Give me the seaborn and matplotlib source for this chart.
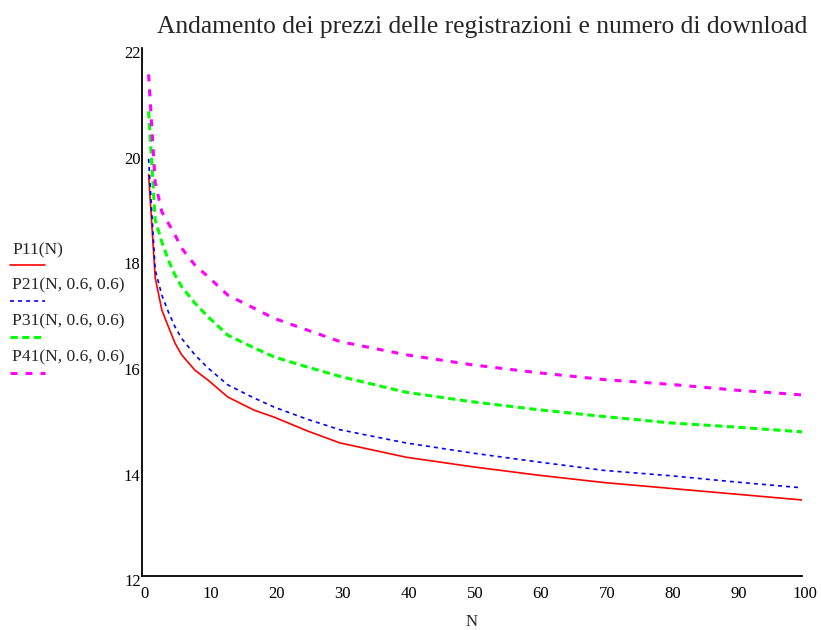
import pandas as pd
import matplotlib
matplotlib.use("Agg")
import matplotlib.pyplot as plt
import matplotlib.transforms as mtransforms
from matplotlib.lines import Line2D
import seaborn as sns

# values
n_values = [1, 2, 3, 4, 5, 6, 8, 10, 13, 17, 20, 25, 30, 40, 50, 60, 70, 80, 90, 100]
p11 = [19.6, 17.65, 17.04, 16.72, 16.41, 16.19, 15.9, 15.71, 15.39, 15.14, 15.01, 14.75, 14.52,
       14.25, 14.07, 13.91, 13.77, 13.66, 13.55, 13.44]
p21 = [19.9, 17.8, 17.32, 17.0, 16.72, 16.5, 16.19, 15.94, 15.62, 15.37, 15.2, 14.97, 14.77,
       14.52, 14.33, 14.16, 14.0, 13.9, 13.78, 13.67]
p31 = [20.8, 18.74, 18.33, 17.98, 17.7, 17.48, 17.17, 16.91, 16.56, 16.32, 16.15, 15.96, 15.78,
       15.48, 15.3, 15.15, 15.02, 14.9, 14.82, 14.73]
p41 = [21.5, 19.45, 18.9, 18.68, 18.46, 18.21, 17.89, 17.67, 17.32, 17.07, 16.88, 16.66, 16.44,
       16.19, 16.0, 15.85, 15.72, 15.63, 15.52, 15.43]

series_labels = ["P11(N)", "P21(N, 0.6, 0.6)", "P31(N, 0.6, 0.6)", "P41(N, 0.6, 0.6)"]
series_colors = ["#ff0000", "#0000ff", "#00ff00", "#ff00ff"]
x_ticks = [0, 10, 20, 30, 40, 50, 60, 70, 80, 90, 100]
y_ticks = [12, 14, 16, 18, 20, 22]

title = "Andamento dei prezzi delle registrazioni e numero di download"

sns.set_style("white")
plt.rcParams["font.family"] = ["Liberation Serif", "DejaVu Serif"]
plt.rcParams["lines.scale_dashes"] = False

# line widths and dash patterns (points)
widths = [1.2, 1.2, 2.2, 2.2]
dashes = [None, (2.9, 2.9), (5.2, 3.2), (5.0, 5.8)]

fig = plt.figure(figsize=(8.21, 6.3), dpi=100)
ax = fig.add_axes([142 / 821, 54 / 630, 660 / 821, 528 / 630])

for vals, lab, col, lw, ds in zip([p11, p21, p31, p41], series_labels, series_colors, widths, dashes):
    df = pd.DataFrame({"N": n_values, "P": vals})
    sns.lineplot(data=df, x="N", y="P", color=col, linewidth=lw, ax=ax, legend=False)
    if ds is not None:
        ax.lines[-1].set_dashes(ds)

ax.set_xlim(0, 100)
ax.set_ylim(12, 22)
ax.set_xticks(x_ticks)
ax.set_yticks(y_ticks)
ax.set_xticklabels([str(t) for t in x_ticks])
ax.set_yticklabels([str(t) for t in y_ticks])

for side in ["top", "right"]:
    ax.spines[side].set_visible(False)
for side in ["left", "bottom"]:
    ax.spines[side].set_color("black")
    ax.spines[side].set_linewidth(1.3)

ax.tick_params(axis="both", direction="inout", length=8, width=1.3, colors="black",
               labelsize=12, labelcolor="black")
ax.tick_params(axis="y", pad=-3)
ax.tick_params(axis="x", pad=3)

# nudge tick labels like the original (y labels below the tick, x labels slightly right)
for lbl in ax.get_yticklabels():
    lbl.set_transform(lbl.get_transform() + mtransforms.ScaledTranslation(0, -3 / 72, fig.dpi_scale_trans))
for lbl in ax.get_xticklabels():
    lbl.set_transform(lbl.get_transform() + mtransforms.ScaledTranslation(2 / 72, 0, fig.dpi_scale_trans))

ax.set_xlabel("N", fontsize=12)
ax.set_ylabel("")
ax.xaxis.set_label_coords(0.5, -0.072)

fig.text(482 / 821, 1 - 33 / 630, title, ha="center", va="baseline", fontsize=18.4)

# legend on the left: label above a short line sample
text_y = [250, 285.5, 321.5, 357]
line_y = [265, 301, 337, 373]
for lab, col, lw, ds, ty, ly in zip(series_labels, series_colors, widths, dashes, text_y, line_y):
    fig.text(12 / 821, 1 - ty / 630, lab, ha="left", va="center", fontsize=12.6)
    ln = Line2D([10 / 821, 45 / 821], [1 - ly / 630, 1 - ly / 630], color=col, linewidth=lw,
                transform=fig.transFigure)
    if ds is not None:
        ln.set_dashes(ds)
    fig.add_artist(ln)

plt.savefig("out.png", dpi=100)
